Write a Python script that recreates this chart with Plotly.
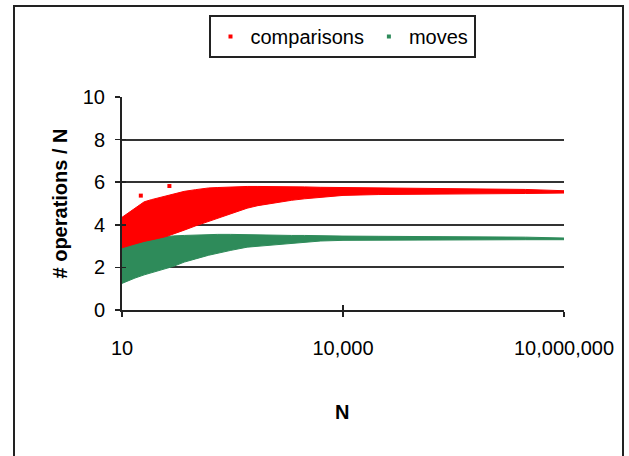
import plotly.graph_objects as go

# ---- data (band envelopes of the point clouds) ----
N_env = [10, 12, 15, 20, 25, 30, 40, 50, 70, 100, 150, 200, 300, 500, 700,
         1000, 2000, 3000, 5000, 10000, 30000, 100000, 300000, 1000000,
         3000000, 10000000]

comp_upper = [4.35, 4.55, 4.80, 5.08, 5.18, 5.25, 5.38, 5.47, 5.57, 5.65, 5.73,
              5.75, 5.78, 5.80, 5.80, 5.80, 5.80, 5.78, 5.76, 5.75, 5.74, 5.73,
              5.72, 5.70, 5.66, 5.60]
comp_lower = [2.92, 3.00, 3.10, 3.22, 3.30, 3.35, 3.45, 3.55, 3.75, 3.95, 4.18,
              4.32, 4.52, 4.78, 4.90, 5.00, 5.15, 5.22, 5.30, 5.38, 5.42, 5.44,
              5.45, 5.46, 5.47, 5.49]

moves_upper = [3.05, 3.10, 3.20, 3.30, 3.35, 3.40, 3.45, 3.48, 3.50, 3.52, 3.55,
               3.55, 3.55, 3.53, 3.52, 3.50, 3.50, 3.50, 3.48, 3.47, 3.46, 3.45,
               3.45, 3.43, 3.42, 3.38]
moves_lower = [1.25, 1.35, 1.50, 1.65, 1.75, 1.85, 1.95, 2.05, 2.25, 2.40, 2.57,
               2.67, 2.80, 2.95, 3.00, 3.05, 3.12, 3.18, 3.24, 3.27, 3.28, 3.29,
               3.30, 3.30, 3.30, 3.30]

# a few isolated points standing out of the comparisons cloud
comp_out_N = [18, 44]
comp_out_v = [5.37, 5.82]

x_tickvals = [10, 10000, 10000000]
x_ticktext = ["10", "10,000", "10,000,000"]
y_tickvals = [0, 2, 4, 6, 8, 10]

RED = "#FF0000"
GREEN = "#2E8B5A"
FONT = "Liberation Sans, Arial, sans-serif"

fig = go.Figure()


def band(n, up, lo, color):
    return go.Scatter(
        x=n + n[::-1], y=up + lo[::-1], fill="toself", fillcolor=color,
        mode="lines", line=dict(width=1, color=color),
        showlegend=False, hoverinfo="skip")


fig.add_trace(band(N_env, moves_upper, moves_lower, GREEN))
fig.add_trace(band(N_env, comp_upper, comp_lower, RED))
fig.add_trace(go.Scatter(x=comp_out_N, y=comp_out_v, mode="markers",
                         marker=dict(symbol="square", size=4, color=RED),
                         showlegend=False, hoverinfo="skip"))

# legend entries
fig.add_trace(go.Scatter(x=[None], y=[None], mode="markers", name="comparisons",
                         marker=dict(symbol="square", size=4, color=RED)))
fig.add_trace(go.Scatter(x=[None], y=[None], mode="markers", name="moves",
                         marker=dict(symbol="square", size=4, color=GREEN)))

# dummy trace for the overlay axes (inner half of the cross ticks)
fig.add_trace(go.Scatter(x=[None], y=[None], xaxis="x2", yaxis="y2",
                         showlegend=False, hoverinfo="skip"))

L, R, T, B = 122, 629 - 564, 97, 456 - 310
PW = 629 - L - R
PH = 456 - T - B


def px_x(p):
    return (p - L) / PW


def px_y(p):
    return (456 - B - p) / PH


fig.update_layout(
    width=629, height=456,
    margin=dict(l=L, r=R, t=T, b=B),
    paper_bgcolor="white", plot_bgcolor="white",
    font=dict(family=FONT, size=20, color="black"),
    showlegend=True,
    legend=dict(
        orientation="h", x=px_x(342), xanchor="center", y=px_y(15), yanchor="top",
        bordercolor="#222", borderwidth=2, bgcolor="white",
        font=dict(family=FONT, size=20, color="black"),
        itemwidth=30, tracegroupgap=0,
    ),
    xaxis=dict(
        type="log", range=[1, 7], tickvals=x_tickvals, ticktext=x_ticktext,
        ticks="outside", ticklen=5, tickwidth=1.5, tickcolor="#222",
        showgrid=False, zeroline=False, showline=True, linecolor="#222",
        linewidth=2, ticklabelstandoff=14,
        tickfont=dict(family=FONT, size=20),
    ),
    yaxis=dict(
        range=[0, 10], tickvals=y_tickvals,
        ticks="outside", ticklen=5, tickwidth=1.5, tickcolor="#222",
        showgrid=True, gridcolor="#333", gridwidth=2,
        zeroline=False, showline=True, linecolor="#222", linewidth=2,
        ticklabelstandoff=6,
        tickfont=dict(family=FONT, size=20),
    ),
    xaxis2=dict(
        type="log", range=[1, 7], tickvals=x_tickvals, overlaying="x",
        anchor="y", side="bottom", ticks="inside", ticklen=5, tickwidth=1.5,
        tickcolor="#222", showticklabels=False, showgrid=False,
        zeroline=False, showline=False,
    ),
    yaxis2=dict(
        range=[0, 10], tickvals=y_tickvals, overlaying="y", anchor="x",
        side="left", ticks="inside", ticklen=4, tickwidth=1.5,
        tickcolor="#222", showticklabels=False, showgrid=False,
        zeroline=False, showline=False,
    ),
    annotations=[
        dict(text="<b># operations / N</b>", xref="paper", yref="paper",
             x=px_x(59), y=0.5, textangle=-90, showarrow=False,
             xanchor="center", yanchor="middle",
             font=dict(family=FONT, size=20, color="black")),
        dict(text="<b>N</b>", xref="paper", yref="paper",
             x=px_x(342), y=px_y(412), showarrow=False,
             xanchor="center", yanchor="middle",
             font=dict(family=FONT, size=20, color="black")),
    ],
    shapes=[
        dict(type="rect", xref="paper", yref="paper",
             x0=px_x(14), x1=px_x(623), y0=px_y(480), y1=px_y(6),
             line=dict(color="#222", width=2), fillcolor="rgba(0,0,0,0)",
             layer="below"),
    ],
)

fig.write_html(
    "out.html",
    config={"displayModeBar": False, "staticPlot": True},
    post_script="document.body.style.margin='0';document.body.style.padding='0';",
)
